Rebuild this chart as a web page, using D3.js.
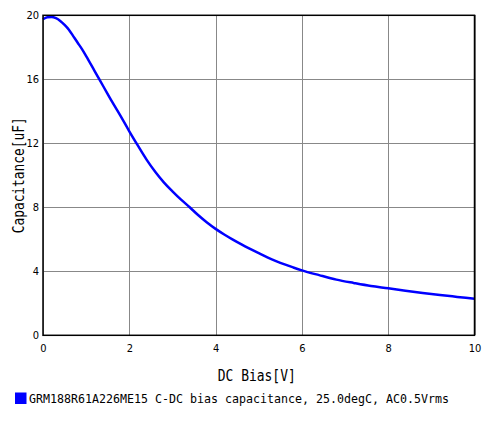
<!DOCTYPE html>
<html>
<head>
<meta charset="utf-8">
<script src="https://cdnjs.cloudflare.com/ajax/libs/d3/7.8.5/d3.min.js"></script>
<style>
  body { margin: 0; background: #fff; }
  .grid line { stroke: #888; stroke-width: 1; shape-rendering: crispEdges; }
  .tick text { font-family: "DejaVu Sans Condensed", "Liberation Sans Narrow", "DejaVu Sans", sans-serif; font-size: 11px; fill: #000; }
</style>
</head>
<body>
<div id="chart"></div>
<script>
    // DC bias (V) and capacitance (uF)
    var bias = [0, 0.1, 0.2, 0.3, 0.4, 0.5, 0.6, 0.7, 0.8, 0.9, 1.0, 1.2, 1.4, 1.6, 1.8, 2.0,
                2.2, 2.4, 2.6, 2.8, 3.0, 3.2, 3.4, 3.6, 3.8, 4.0, 4.2, 4.4, 4.6, 4.8, 5.0,
                5.2, 5.4, 5.6, 5.8, 6.0, 6.4, 6.8, 7.2, 7.6, 8.0, 8.4, 8.8, 9.2, 9.6, 10.0];
    var capacitance = [19.75, 19.88, 19.9, 19.82, 19.65, 19.4, 19.1, 18.7, 18.3, 17.9, 17.45, 16.5, 15.55, 14.6, 13.7, 12.75,
                11.85, 10.98, 10.22, 9.56, 9.0, 8.48, 8.0, 7.5, 7.05, 6.65, 6.3, 5.98, 5.68, 5.4, 5.13,
                4.87, 4.64, 4.43, 4.24, 4.06, 3.76, 3.48, 3.27, 3.08, 2.94, 2.79, 2.65, 2.52, 2.40, 2.28];
    var xTicks = [0, 2, 4, 6, 8, 10];
    var yTicks = [0, 4, 8, 12, 16, 20];
    var seriesName = "GRM188R61A226ME15 C-DC bias capacitance, 25.0degC, AC0.5Vrms";

    var width = 500, height = 422;
    var plot = {left: 43, right: 474.5, top: 15.3, bottom: 335.3};

    var x = d3.scaleLinear().domain([0, 10]).range([plot.left, plot.right]);
    var y = d3.scaleLinear().domain([0, 20]).range([plot.bottom, plot.top]);

    var svg = d3.select("#chart").append("svg")
        .attr("width", width)
        .attr("height", height);

    svg.append("rect").attr("width", width).attr("height", height).attr("fill", "#fff");

    // grid lines
    svg.append("g")
        .attr("class", "grid")
        .attr("transform", "translate(0," + plot.bottom + ")")
        .call(d3.axisBottom(x).tickValues(xTicks).tickSize(-(plot.bottom - plot.top)).tickFormat(""))
        .call(function(g) { g.select(".domain").remove(); });

    svg.append("g")
        .attr("class", "grid")
        .attr("transform", "translate(" + plot.left + ",0)")
        .call(d3.axisLeft(y).tickValues(yTicks).tickSize(-(plot.right - plot.left)).tickFormat(""))
        .call(function(g) { g.select(".domain").remove(); });

    // tick labels
    svg.append("g")
        .attr("transform", "translate(0," + plot.bottom + ")")
        .call(d3.axisBottom(x).tickValues(xTicks).tickSize(0).tickPadding(9).tickFormat(d3.format("d")))
        .call(function(g) { g.select(".domain").remove(); });

    svg.append("g")
        .attr("transform", "translate(" + plot.left + ",0)")
        .call(d3.axisLeft(y).tickValues(yTicks).tickSize(0).tickPadding(4).tickFormat(d3.format("d")))
        .call(function(g) { g.select(".domain").remove(); });

    // the curve
    var line = d3.line()
        .x(function(d, i) { return x(bias[i]); })
        .y(function(d) { return y(d); })
        .curve(d3.curveMonotoneX);

    svg.append("path")
        .datum(capacitance)
        .attr("fill", "none")
        .attr("stroke", "#0000ff")
        .attr("stroke-width", 2.5)
        .attr("d", line);

    // frame
    svg.append("rect")
        .attr("x", plot.left)
        .attr("y", plot.top)
        .attr("width", plot.right - plot.left)
        .attr("height", plot.bottom - plot.top)
        .attr("fill", "none")
        .attr("stroke", "#000")
        .attr("stroke-width", 1.5);

    // axis titles
    svg.append("text")
        .attr("x", (plot.left + plot.right) / 2 - 2)
        .attr("y", 381)
        .attr("text-anchor", "middle")
        .attr("font-family", "DejaVu Sans Mono, monospace")
        .attr("font-size", 15)
        .attr("textLength", 78)
        .attr("lengthAdjust", "spacingAndGlyphs")
        .text("DC Bias[V]");

    svg.append("text")
        .attr("transform", "translate(24," + ((plot.top + plot.bottom) / 2) + ") rotate(-90)")
        .attr("text-anchor", "middle")
        .attr("font-family", "DejaVu Sans Mono, monospace")
        .attr("font-size", 15)
        .attr("textLength", 116)
        .attr("lengthAdjust", "spacingAndGlyphs")
        .text("Capacitance[uF]");

    // legend
    svg.append("rect")
        .attr("x", 15).attr("y", 392.5)
        .attr("width", 11.5).attr("height", 11.5)
        .attr("fill", "#0000ff");

    svg.append("text")
        .attr("x", 29)
        .attr("y", 403)
        .attr("font-family", "DejaVu Sans Mono, monospace")
        .attr("font-size", 13)
        .attr("textLength", 420)
        .attr("lengthAdjust", "spacingAndGlyphs")
        .text(seriesName);
</script>
</body>
</html>
